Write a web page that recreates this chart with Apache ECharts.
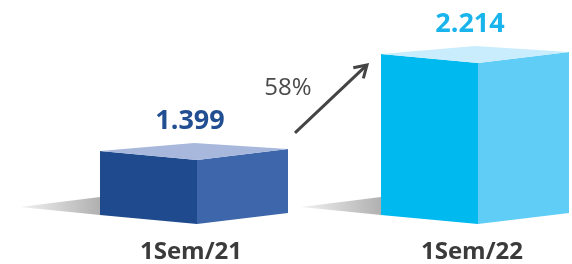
<!DOCTYPE html>
<html>
<head>
<meta charset="utf-8">
<script src="https://cdn.jsdelivr.net/npm/echarts@6/dist/echarts.min.js"></script>
<style>
  html, body { margin: 0; padding: 0; background: #fff; }
  #chart { width: 572px; height: 264px; }
</style>
</head>
<body>
<div id="chart"></div>
<script>
// dados
var categorias = ['1Sem/21', '1Sem/22'];
var valores = [1.399, 2.214];

// eixo y começa acima de zero (como no original)
var Y_MIN = 0.86, Y_MAX = 2.6;

// cores de cada caixa: frente, lado, topo, texto
var cores = [
  { frente: '#1f4b8e', lado: '#3e66aa', topo: '#a7b8dc', texto: '#224f91' },
  { frente: '#00b9ef', lado: '#5fcdf6', topo: '#c9edfc', texto: '#1ab4ec' }
];

var chart = echarts.init(document.getElementById('chart'));

function fmt(v) {
  return v.toFixed(3);
}

function renderItem(params, api) {
  var i = params.dataIndex;
  var top = api.coord([api.value(0), api.value(1)]);
  var base = api.coord([api.value(0), Y_MIN]);
  var fx = top[0], ty = top[1], by = base[1];
  var L = 97, R = 91, dl = 9, dr = 11, db = 17;
  var c = cores[i];
  return {
    type: 'group',
    children: [
      // sombra
      {
        type: 'polygon',
        shape: { points: [[fx - L - 80, by - dl - 8], [fx - L, by - dl - 18], [fx - L, by - dl]] },
        style: {
          fill: {
            type: 'linear', x: 0, y: 0, x2: 1, y2: 0,
            colorStops: [{ offset: 0, color: '#f2f2f2' }, { offset: 1, color: '#b0b0b0' }]
          }
        }
      },
      // frente
      {
        type: 'polygon',
        shape: { points: [[fx - L, ty - dl], [fx, ty], [fx, by], [fx - L, by - dl]] },
        style: { fill: c.frente }
      },
      // lado
      {
        type: 'polygon',
        shape: { points: [[fx, ty], [fx + R, ty - dr], [fx + R, by - dr], [fx, by]] },
        style: { fill: c.lado }
      },
      // topo
      {
        type: 'polygon',
        shape: { points: [[fx - L, ty - dl], [fx - 3, ty - db], [fx + R, ty - dr], [fx, ty]] },
        style: { fill: c.topo }
      },
      // valor
      {
        type: 'text',
        x: fx - 7 - i,
        y: ty - db - 22,
        style: {
          text: fmt(api.value(1)),
          font: 'bold 27px "Open Sans"',
          fill: c.texto,
          align: 'center',
          verticalAlign: 'middle'
        }
      }
    ]
  };
}

var option = {
  animation: false,
  grid: { left: 197, right: 94, top: 17, bottom: 40 },
  xAxis: {
    type: 'category',
    data: categorias,
    boundaryGap: false,
    axisLine: { show: false },
    axisTick: { show: false },
    splitLine: { show: false },
    axisLabel: {
      interval: 0,
      margin: 16,
      padding: [0, 12, 0, 0],
      fontFamily: 'Open Sans',
      fontSize: 24,
      fontWeight: 'bold',
      color: '#3b3b3b'
    }
  },
  yAxis: {
    type: 'value',
    min: Y_MIN,
    max: Y_MAX,
    show: false
  },
  series: [{
    type: 'custom',
    renderItem: renderItem,
    data: valores.map(function (v, i) { return [i, v]; })
  }]
};

chart.setOption(option);

// seta de crescimento
var p1 = chart.convertToPixel({ seriesIndex: 0 }, [0, valores[0]]);
var p2 = chart.convertToPixel({ seriesIndex: 0 }, [1, valores[1]]);
var a = [p1[0] + 98, p1[1] - 27];
var b = [p2[0] - 111, p2[1] + 2];
var ang = Math.atan2(b[1] - a[1], b[0] - a[0]);
var hl = 14, hw = 0.55;
var h1 = [b[0] - hl * Math.cos(ang - hw), b[1] - hl * Math.sin(ang - hw)];
var h2 = [b[0] - hl * Math.cos(ang + hw), b[1] - hl * Math.sin(ang + hw)];
var cresc = Math.round((valores[1] / valores[0] - 1) * 100);
var mid = [(a[0] + b[0]) / 2, (a[1] + b[1]) / 2];

chart.setOption({
  graphic: [
    { type: 'line', shape: { x1: a[0], y1: a[1], x2: b[0], y2: b[1] }, style: { stroke: '#444', lineWidth: 3 } },
    { type: 'polyline', shape: { points: [h1, b, h2] }, style: { stroke: '#444', lineWidth: 3, fill: null } },
    {
      type: 'text', x: mid[0] - 43, y: mid[1] - 11,
      style: { text: cresc + '%', font: '24px "Open Sans"', fill: '#4a4a4a', align: 'center', verticalAlign: 'middle' }
    }
  ]
});
</script>
</body>
</html>
